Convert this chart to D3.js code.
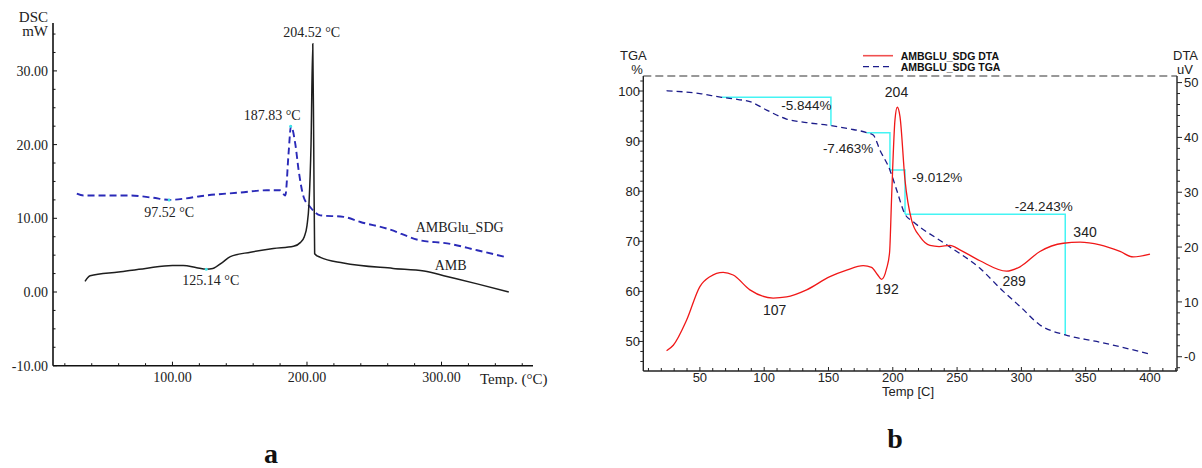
<!DOCTYPE html>
<html><head><meta charset="utf-8">
<script src="https://cdn.jsdelivr.net/npm/d3@7"></script>
<style>
html,body{margin:0;padding:0;background:#fff;}
svg{display:block;}
</style></head>
<body>
<svg id="c" width="1202" height="468"></svg>
<script>
// ---------- Panel a: DSC ----------
const ambTemp = [35,38.8,60,80,100,108,118,125.1,130,137,143,158,175,190,195,198,200,201.5,203,204.3,205,205.7,209.9,227,264,287,304,326.5,350];
const ambDSC  = [1.45,2.2,2.7,3.2,3.6,3.6,3.3,3.1,3.2,4.0,4.8,5.4,5.9,6.2,6.7,7.5,9,12,20,33.7,20,5.2,4.7,3.94,3.2,2.85,2.1,1.1,0.0];
const sdgTemp = [28.9,33.9,68.5,85,98.3,110,120.6,150.4,170,180,183.9,186.3,188.1,191.3,193.8,197.5,202.5,209.9,227.2,239.7,259.5,284.3,304.2,326.5,348.8];
const sdgDSC  = [13.35,13.1,13.1,12.8,12.5,12.7,13.0,13.5,13.8,13.8,13.1,18.8,22.5,20.1,16.5,12.9,11.5,10.4,10.2,9.5,8.6,7.0,6.6,5.66,4.7];
const dscYTicks = [30,20,10,0,-10];
const dscXTicks = [100,200,300];
const dscPeakText = ["204.52 °C","187.83 °C","97.52 °C","125.14 °C"];
const dscPeakPos  = [[203.5,35.3],[174.1,24.0],[97.6,10.9],[128.5,1.63]];
const dscMarkers  = [[97.52,12.5],[125.14,3.1],[187.83,22.5]];
const dscSeriesNames = ["AMBGlu_SDG","AMB"];
const dscSeriesPos = [[313.5,8.86],[306.8,3.66]];

// ---------- Panel b: TGA / DTA ----------
const tgaTemp = [24.1,50,66.9,80,88.9,101.9,117.4,133,151.9,165,179.6,184.8,190,197.8,203,209.5,215.9,241.9,267.8,285.9,298.9,314.4,334.1,358.5,387,399.5];
const tgaValue= [100.06,99.5,98.74,98.3,97.9,96.2,94.4,93.7,93.1,92.5,91.7,91.2,88.2,84.2,80.25,75.4,73.9,69.3,64.6,60.0,57.0,53.3,51.3,50.0,48.3,47.5];
const dtaTemp = [24.1,29.3,39.7,50,57.8,68.1,75.9,88.9,107,117.4,133,151.1,164.1,177,183.5,188,191.3,195.2,197.5,199.1,201.7,203.5,205.6,209.5,214.6,221.1,228.9,236,244.4,252.2,267.8,288.5,298.9,314.4,332.6,345.6,361.1,376.7,387,400];
const dtaValue= [1.1,2.1,6.7,12.8,14.6,15.4,14.9,12.2,10.7,10.9,12.2,14.6,15.8,16.6,16.3,15.0,14.1,16.1,19.0,29.2,43.2,45.5,43.8,32.2,24.9,21.9,20.3,20.1,20.3,19.5,17.5,15.6,16.4,19.2,20.7,20.9,20.4,19.2,18.2,18.7];
const stepT0 = [66.9,179.6,197.8,209.5];
const stepT1 = [151.9,197.8,209.5,334.1];
const stepHi = [98.74,91.68,84.24,75.4];
const stepLo = [93.08,84.24,75.4,51.3];
const stepText = ["-5.844%","-7.463%","-9.012%","-24.243%"];
const stepTextPos = [[132.8,97.2],[165.2,88.57],[234.4,82.8],[317.4,77.06]];
const dtaPeakText = ["204","192","107","289","340"];
const dtaPeakPos = [[202.9,48.2],[195.5,12.35],[108.2,8.5],[294.3,13.8],[349.5,22.8]];
const tgaTicks = [100,90,80,70,60,50];
const dtaTicks = [50,40,30,20,10,0];
const dtaTickLabels = ["50","40","30","20","10","-0"];
const tXTicks = [50,100,150,200,250,300,350,400];
const legendNames = ["AMBGLU_SDG DTA","AMBGLU_SDG TGA"];

const svg = d3.select("#c");

// ===== Panel a =====
const serif = "'Liberation Serif','Times New Roman',serif";
const xL = d3.scaleLinear().domain([11.2,368]).range([53,533]);
const yL = d3.scaleLinear().domain([-10,36.5]).range([365.7,23]);
const gA = svg.append("g");
gA.append("line").attr("x1",53).attr("x2",53).attr("y1",yL(36.5)).attr("y2",yL(-10)).attr("stroke","#111").attr("stroke-width",1.6);
gA.append("line").attr("x1",xL(11.2)).attr("x2",xL(368)).attr("y1",yL(-10)).attr("y2",yL(-10)).attr("stroke","#111").attr("stroke-width",1.6);
d3.range(-10,36.5,2.5).forEach(v=>{
  const major = dscYTicks.includes(v);
  gA.append("line").attr("x1",53).attr("x2",53+(major?4:2.5)).attr("y1",yL(v)).attr("y2",yL(v)).attr("stroke","#111").attr("stroke-width",1);
});
dscYTicks.forEach(v=>{
  gA.append("text").attr("x",48).attr("y",yL(v)).attr("dy","0.35em").attr("text-anchor","end")
    .attr("font-family",serif).attr("font-size",14).attr("fill","#222").text(v.toFixed(2));
});
d3.range(20,368,20).forEach(v=>{
  const major = dscXTicks.includes(v);
  gA.append("line").attr("x1",xL(v)).attr("x2",xL(v)).attr("y1",yL(-10)).attr("y2",yL(-10)-(major?4:2.5)).attr("stroke","#111").attr("stroke-width",1);
});
dscXTicks.forEach(v=>{
  gA.append("text").attr("x",xL(v)).attr("y",382).attr("text-anchor","middle")
    .attr("font-family",serif).attr("font-size",14).attr("fill","#222").text(v.toFixed(2));
});
gA.append("text").attr("x",48).attr("y",22).attr("text-anchor","end").attr("font-family",serif).attr("font-size",15).attr("fill","#222").text("DSC");
gA.append("text").attr("x",48).attr("y",36).attr("text-anchor","end").attr("font-family",serif).attr("font-size",15).attr("fill","#222").text("mW");
gA.append("text").attr("x",480).attr("y",384).attr("font-family",serif).attr("font-size",15).attr("fill","#222").text("Temp. (°C)");

const lineA = d3.line().x(d=>xL(d[0])).y(d=>yL(d[1])).curve(d3.curveMonotoneX);
gA.append("path").attr("d",lineA(d3.zip(sdgTemp,sdgDSC))).attr("fill","none")
  .attr("stroke","#2a2ab8").attr("stroke-width",1.9).attr("stroke-dasharray","7,4");
gA.append("path").attr("d",lineA(d3.zip(ambTemp,ambDSC))).attr("fill","none")
  .attr("stroke","#1e1e1e").attr("stroke-width",1.5);
dscMarkers.forEach(p=>{
  gA.append("circle").attr("cx",xL(p[0])).attr("cy",yL(p[1])).attr("r",1.5).attr("fill","#3ee8e8");
});
dscPeakText.forEach((t,i)=>{
  gA.append("text").attr("x",xL(dscPeakPos[i][0])).attr("y",yL(dscPeakPos[i][1])).attr("dy","0.35em")
    .attr("text-anchor","middle").attr("font-family",serif).attr("font-size",14).attr("fill","#222").text(t);
});
dscSeriesNames.forEach((t,i)=>{
  gA.append("text").attr("x",xL(dscSeriesPos[i][0])).attr("y",yL(dscSeriesPos[i][1])).attr("dy","0.35em")
    .attr("text-anchor","middle").attr("font-family",serif).attr("font-size",14).attr("fill","#222").text(t);
});
gA.append("text").attr("x",271).attr("y",463).attr("text-anchor","middle").attr("font-family",serif)
  .attr("font-weight","bold").attr("font-size",28).attr("fill","#111").text("a");

// ===== Panel b =====
const sans = "'Liberation Sans',Arial,sans-serif";
const xR = d3.scaleLinear().domain([6,421]).range([643.3,1177]);
const yT = d3.scaleLinear().domain([44.1,103]).range([371,76]);
const yD = d3.scaleLinear().domain([-2.6,51.2]).range([371,76]);
const gB = svg.append("g");
const ax = "#222";
gB.append("line").attr("x1",643.3).attr("x2",643.3).attr("y1",76).attr("y2",371).attr("stroke",ax).attr("stroke-width",1.4);
gB.append("line").attr("x1",1177).attr("x2",1177).attr("y1",76).attr("y2",371).attr("stroke",ax).attr("stroke-width",1.4);
gB.append("line").attr("x1",643.3).attr("x2",1177).attr("y1",371).attr("y2",371).attr("stroke",ax).attr("stroke-width",1.4);
gB.append("line").attr("x1",643.3).attr("x2",1177).attr("y1",76).attr("y2",76).attr("stroke","#333").attr("stroke-width",1.1).attr("stroke-dasharray","8,4");
d3.range(46,103,2).forEach(v=>{
  const major = tgaTicks.includes(v);
  gB.append("line").attr("x1",643.3).attr("x2",643.3-(major?5:3)).attr("y1",yT(v)).attr("y2",yT(v)).attr("stroke",ax).attr("stroke-width",1);
});
tgaTicks.forEach(v=>{
  gB.append("text").attr("x",640).attr("y",yT(v)).attr("dy","0.36em").attr("text-anchor","end")
    .attr("font-family",sans).attr("font-size",13).attr("fill","#222").text(v);
});
d3.range(-2,51.2,2).forEach(v=>{
  const major = dtaTicks.includes(v);
  gB.append("line").attr("x1",1177).attr("x2",1177+(major?5:3)).attr("y1",yD(v)).attr("y2",yD(v)).attr("stroke",ax).attr("stroke-width",1);
});
dtaTicks.forEach((v,i)=>{
  gB.append("text").attr("x",1184).attr("y",yD(v)).attr("dy","0.36em").attr("text-anchor","start")
    .attr("font-family",sans).attr("font-size",13).attr("fill","#222").text(dtaTickLabels[i]);
});
d3.range(10,421,10).forEach(v=>{
  const major = tXTicks.includes(v);
  gB.append("line").attr("x1",xR(v)).attr("x2",xR(v)).attr("y1",371).attr("y2",371-(major?4:3)).attr("stroke",ax).attr("stroke-width",1);
});
tXTicks.forEach(v=>{
  gB.append("text").attr("x",xR(v)).attr("y",381.5).attr("text-anchor","middle")
    .attr("font-family",sans).attr("font-size",13).attr("fill","#222").text(v);
});
gB.append("text").attr("x",882).attr("y",396).attr("font-family",sans).attr("font-size",13).attr("fill","#222").text("Temp [C]");
gB.append("text").attr("x",620).attr("y",60).attr("font-family",sans).attr("font-size",13).attr("fill","#222").text("TGA");
gB.append("text").attr("x",637).attr("y",74).attr("text-anchor","middle").attr("font-family",sans).attr("font-size",13).attr("fill","#222").text("%");
gB.append("text").attr("x",1173).attr("y",60).attr("font-family",sans).attr("font-size",13).attr("fill","#222").text("DTA");
gB.append("text").attr("x",1177).attr("y",74).attr("font-family",sans).attr("font-size",13).attr("fill","#222").text("uV");

const cyan = "#44f4f4";
stepT0.forEach((t0,i)=>{
  const p = d3.path();
  p.moveTo(xR(t0),yT(stepHi[i])); p.lineTo(xR(stepT1[i]),yT(stepHi[i])); p.lineTo(xR(stepT1[i]),yT(stepLo[i]));
  gB.append("path").attr("d",p.toString()).attr("fill","none").attr("stroke",cyan).attr("stroke-width",1.5);
});
const lineT = d3.line().x(d=>xR(d[0])).y(d=>yT(d[1])).curve(d3.curveMonotoneX);
const lineD = d3.line().x(d=>xR(d[0])).y(d=>yD(d[1])).curve(d3.curveMonotoneX);
gB.append("path").attr("d",lineT(d3.zip(tgaTemp,tgaValue))).attr("fill","none")
  .attr("stroke","#1c1c8a").attr("stroke-width",1.3).attr("stroke-dasharray","6,4");
gB.append("path").attr("d",lineD(d3.zip(dtaTemp,dtaValue))).attr("fill","none")
  .attr("stroke","#f01818").attr("stroke-width",1.3);
stepText.forEach((t,i)=>{
  gB.append("text").attr("x",xR(stepTextPos[i][0])).attr("y",yT(stepTextPos[i][1])).attr("dy","0.36em")
    .attr("text-anchor","middle").attr("font-family",sans).attr("font-size",13.5).attr("fill","#222").text(t);
});
dtaPeakText.forEach((t,i)=>{
  gB.append("text").attr("x",xR(dtaPeakPos[i][0])).attr("y",yD(dtaPeakPos[i][1])).attr("dy","0.36em")
    .attr("text-anchor","middle").attr("font-family",sans).attr("font-size",14).attr("fill","#222").text(t);
});
gB.append("line").attr("x1",863).attr("x2",893).attr("y1",55.7).attr("y2",55.7).attr("stroke","#f05050").attr("stroke-width",1.6);
gB.append("line").attr("x1",863).attr("x2",893).attr("y1",66.7).attr("y2",66.7).attr("stroke","#1c1c8a").attr("stroke-width",1.3).attr("stroke-dasharray","6,4");
legendNames.forEach((t,i)=>{
  gB.append("text").attr("x",900.7).attr("y",59.5+i*11).attr("font-family",sans).attr("font-weight","bold")
    .attr("font-size",10.5).attr("fill","#111").text(t);
});
gB.append("text").attr("x",895).attr("y",448).attr("text-anchor","middle").attr("font-family",serif)
  .attr("font-weight","bold").attr("font-size",28).attr("fill","#111").text("b");
</script>
</body></html>
